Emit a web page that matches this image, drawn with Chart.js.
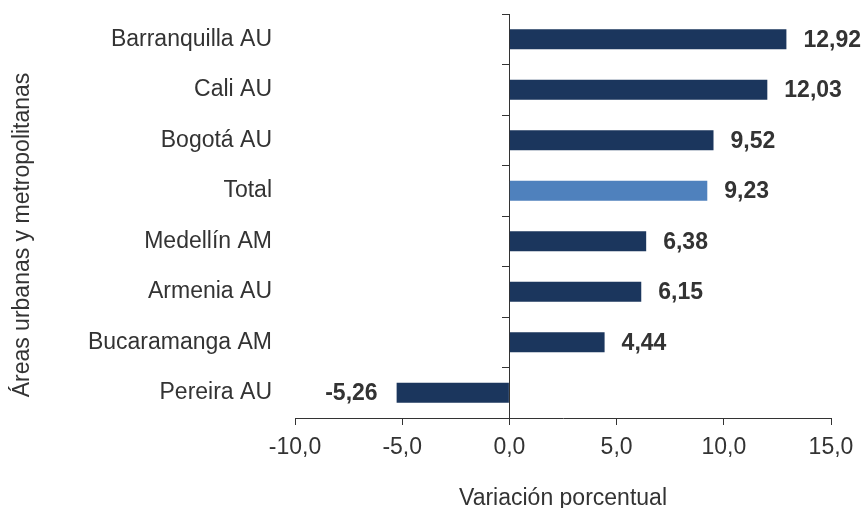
<!DOCTYPE html>
<html>
<head>
<meta charset="utf-8">
<script src="https://cdn.jsdelivr.net/npm/chart.js@4/dist/chart.umd.min.js"></script>
<style>
  body { margin: 0; background: #fff; }
  #wrap { width: 863px; height: 508px; }
</style>
</head>
<body>
<div id="wrap"><canvas id="chart"></canvas></div>
<script>
const categories = ["Barranquilla AU", "Cali AU", "Bogotá AU", "Total", "Medellín AM", "Armenia AU", "Bucaramanga AM", "Pereira AU"];
const values = [12.92, 12.03, 9.52, 9.23, 6.38, 6.15, 4.44, -5.26];
const xTicks = [-10, -5, 0, 5, 10, 15];
const xTitle = "Variación porcentual";
const yTitle = "Áreas urbanas y metropolitanas";

const dark = "#1b365d";
const light = "#4f81bd";
const textColor = "#333333";
const fontFamily = "'Liberation Sans', Arial, sans-serif";
const fmt = (v, d) => v.toFixed(d).replace(".", ",");

// etiquetas de valor al final de cada barra
const valueLabels = {
  id: "valueLabels",
  afterDatasetsDraw(chart) {
    const ctx = chart.ctx;
    const meta = chart.getDatasetMeta(0);
    ctx.save();
    ctx.font = "bold 23px " + fontFamily;
    ctx.fillStyle = textColor;
    ctx.textBaseline = "middle";
    meta.data.forEach((bar, i) => {
      const v = values[i];
      if (v >= 0) {
        ctx.textAlign = "left";
        ctx.fillText(fmt(v, 2), bar.x + 17, bar.y + 1);
      } else {
        ctx.textAlign = "right";
        ctx.fillText(fmt(v, 2), bar.x - 19, bar.y + 1);
      }
    });
    ctx.restore();
  }
};

// titulo vertical del eje y
const yAxisTitle = {
  id: "yAxisTitle",
  afterDraw(chart) {
    const ctx = chart.ctx;
    const area = chart.chartArea;
    ctx.save();
    ctx.translate(23, (area.top + area.bottom) / 2 + 19);
    ctx.rotate(-Math.PI / 2);
    ctx.font = "23px " + fontFamily;
    ctx.fillStyle = textColor;
    ctx.textAlign = "center";
    ctx.textBaseline = "middle";
    ctx.fillText(yTitle, 0, 0);
    ctx.restore();
  }
};

new Chart(document.getElementById("chart"), {
  type: "bar",
  data: {
    labels: categories,
    datasets: [{
      data: values,
      backgroundColor: categories.map(c => c === "Total" ? light : dark),
      borderWidth: 0,
      categoryPercentage: 1,
      barPercentage: 0.4
    }]
  },
  options: {
    indexAxis: "y",
    responsive: true,
    maintainAspectRatio: false,
    animation: false,
    layout: { padding: { top: 14, right: 32, left: 0, bottom: 0 } },
    plugins: {
      legend: { display: false },
      tooltip: { enabled: false }
    },
    scales: {
      x: {
        min: xTicks[0],
        max: xTicks[xTicks.length - 1],
        afterBuildTicks: s => { s.ticks = xTicks.map(v => ({ value: v })); },
        afterFit: s => { s.height = 90; },
        grid: { drawOnChartArea: false, drawTicks: true, tickLength: 7, color: textColor },
        border: { display: true, color: textColor, width: 1 },
        ticks: {
          color: textColor,
          padding: 9,
          maxRotation: 0,
          font: { family: fontFamily, size: 23 },
          callback: v => fmt(v, 1)
        },
        title: {
          display: true,
          text: xTitle,
          color: textColor,
          padding: { top: 0, bottom: -2 },
          font: { family: fontFamily, size: 23, lineHeight: 1 }
        }
      },
      y: {
        position: "left",
        afterFit: s => { s.width = 295; s.paddingTop = 0; s.paddingBottom = 0; },
        grid: { display: false, drawTicks: false },
        border: { display: false },
        ticks: {
          color: textColor,
          padding: 23,
          font: { family: fontFamily, size: 23 }
        }
      },
      yZero: {
        axis: "y",
        type: "category",
        position: { x: 0 },
        offset: true,
        afterFit: s => { s.paddingTop = 0; s.paddingBottom = 0; },
        grid: { offset: true, drawOnChartArea: false, drawTicks: true, tickLength: 7, color: textColor },
        border: { display: true, color: textColor, width: 1 },
        ticks: { display: false }
      }
    }
  },
  plugins: [valueLabels, yAxisTitle]
});
</script>
</body>
</html>
